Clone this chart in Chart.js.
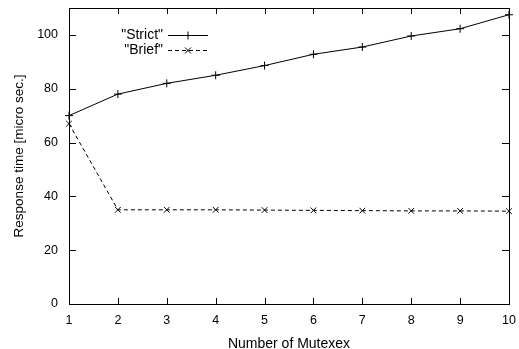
<!DOCTYPE html>
<html>
<head>
<meta charset="utf-8">
<script src="https://cdn.jsdelivr.net/npm/chart.js@4"></script>
<style>
  body { margin: 0; background: #fff; }
  canvas { display: block; }
</style>
</head>
<body>
<canvas id="chart" width="519" height="349"></canvas>
<script>
const mutexCounts = [1, 2, 3, 4, 5, 6, 7, 8, 9, 10];
const strictTimes = [70, 78, 82, 85, 88.6, 92.8, 95.5, 99.6, 102.3, 107.5];
const briefTimes = [67, 35, 35, 35, 34.9, 34.8, 34.7, 34.6, 34.6, 34.5];
const yTicks = [0, 20, 40, 60, 80, 100];

const FONT = 'Liberation Sans, Arial, sans-serif';

// box round the plot, ticks pointing inward on all four sides
const frame = {
  id: 'frame',
  afterDatasetsDraw(chart) {
    const { ctx, chartArea: a, scales } = chart;
    ctx.save();
    ctx.strokeStyle = '#000';
    ctx.lineWidth = 1;
    ctx.strokeRect(a.left + 0.5, a.top + 0.5, a.right - a.left, a.bottom - a.top);
    ctx.beginPath();
    yTicks.forEach(v => {
      const y = Math.round(scales.y.getPixelForValue(v)) + 0.5;
      ctx.moveTo(a.left, y); ctx.lineTo(a.left + 7, y);
      ctx.moveTo(a.right, y); ctx.lineTo(a.right - 7, y);
    });
    mutexCounts.forEach(v => {
      const x = Math.round(scales.x.getPixelForValue(v)) + 0.5;
      ctx.moveTo(x, a.bottom); ctx.lineTo(x, a.bottom - 6);
      ctx.moveTo(x, a.top); ctx.lineTo(x, a.top + 6);
    });
    ctx.stroke();
    ctx.restore();
  }
};

// gnuplot-style key: label, then line sample with marker
const key = {
  id: 'key',
  afterDraw(chart) {
    const { ctx } = chart;
    ctx.save();
    ctx.font = '14px ' + FONT;
    ctx.fillStyle = '#000';
    ctx.textAlign = 'right';
    ctx.textBaseline = 'middle';
    chart.data.datasets.forEach((ds, i) => {
      const y = 35 + i * 15 + 0.5;
      ctx.fillText('"' + ds.label + '"', 163, y);
      ctx.strokeStyle = '#000';
      ctx.lineWidth = 1;
      ctx.setLineDash(ds.borderDash || []);
      ctx.beginPath();
      ctx.moveTo(168, y); ctx.lineTo(208, y);
      ctx.stroke();
      ctx.setLineDash([]);
      ctx.beginPath();
      if (ds.pointStyle === 'cross') {
        ctx.moveTo(188, y - 4); ctx.lineTo(188, y + 4);
        ctx.moveTo(184, y); ctx.lineTo(192, y);
      } else {
        ctx.moveTo(185, y - 3); ctx.lineTo(191, y + 3);
        ctx.moveTo(185, y + 3); ctx.lineTo(191, y - 3);
      }
      ctx.stroke();
    });
    ctx.restore();
  }
};

new Chart(document.getElementById('chart'), {
  type: 'line',
  data: {
    datasets: [
      {
        label: 'Strict',
        data: mutexCounts.map((x, i) => ({ x, y: strictTimes[i] })),
        borderColor: '#000',
        borderWidth: 1,
        pointStyle: 'cross',
        pointRadius: 4,
        pointBorderColor: '#000',
        pointBorderWidth: 1,
        tension: 0,
        clip: false
      },
      {
        label: 'Brief',
        data: mutexCounts.map((x, i) => ({ x, y: briefTimes[i] })),
        borderColor: '#000',
        borderWidth: 1,
        borderDash: [4, 3],
        pointStyle: 'crossRot',
        pointRadius: 4,
        pointBorderColor: '#000',
        pointBorderWidth: 1,
        tension: 0,
        clip: false
      }
    ]
  },
  options: {
    responsive: false,
    animation: false,
    layout: { padding: { left: 0, right: 10, top: 8, bottom: 0 } },
    plugins: {
      legend: { display: false },
      tooltip: { enabled: false }
    },
    scales: {
      x: {
        type: 'linear',
        min: 1,
        max: 10,
        afterFit: s => { s.height = 45; s.paddingLeft = 0; s.paddingRight = 0; },
        afterBuildTicks: s => { s.ticks = mutexCounts.map(v => ({ value: v })); },
        grid: { display: false, drawTicks: false },
        border: { display: false },
        ticks: { color: '#000', padding: 9, maxRotation: 0, font: { family: FONT, size: 12.5 } },
        title: {
          display: true,
          text: 'Number of Mutexex',
          color: '#000',
          padding: { top: 4, bottom: -4 },
          font: { family: FONT, size: 14 }
        }
      },
      y: {
        min: 0,
        max: 110,
        afterFit: s => { s.width = 69; s.paddingTop = 0; s.paddingBottom = 0; },
        afterBuildTicks: s => { s.ticks = yTicks.map(v => ({ value: v })); },
        grid: { display: false, drawTicks: false },
        border: { display: false },
        ticks: { color: '#000', padding: 11, font: { family: FONT, size: 12.5 } },
        title: {
          display: true,
          text: 'Response time [micro sec.]',
          color: '#000',
          padding: { top: 11, bottom: 0 },
          font: { family: FONT, size: 13.5 }
        }
      }
    }
  },
  plugins: [frame, key]
});
</script>
</body>
</html>
